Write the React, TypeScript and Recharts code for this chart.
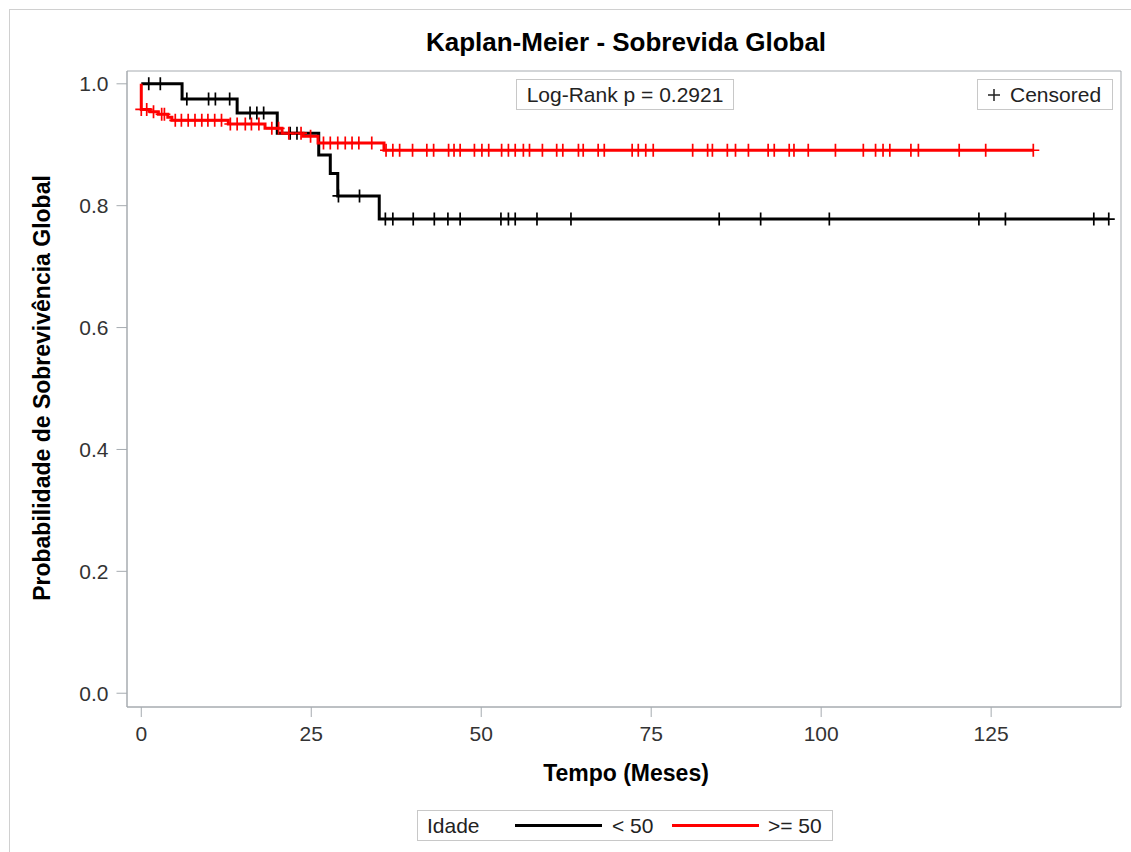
import { ComposedChart, Line, ReferenceArea, Scatter, XAxis, YAxis } from 'recharts'

const FONT = '"Liberation Sans", Arial, Helvetica, sans-serif'
const AXIS = '#a6abb0'
const BOX = '#c8c8c8'

const chartTitle = 'Kaplan-Meier - Sobrevida Global'
const xLabel = 'Tempo (Meses)'
const yLabel = 'Probabilidade de Sobrevivência Global'
const legendTitle = 'Idade'
const pValueText = 'Log-Rank p = 0.2921'
const censorLabel = 'Censored'

const groupNames = ['< 50', '>= 50']
const groupColors = ['#000000', '#ff0000']

const xTicks = [0, 25, 50, 75, 100, 125]
const yTicks = [0, 0.2, 0.4, 0.6, 0.8, 1.0]
const xDomain: [number, number] = [-2.1, 144.1]
const yDomain: [number, number] = [-0.0226, 1.021]

// Idade < 50
const youngTimes = [0, 6.0, 14.1, 20.0, 26.1, 27.8, 28.9, 35.0, 142.3]
const youngSurv = [1.0, 0.975, 0.952, 0.919, 0.883, 0.853, 0.816, 0.778, 0.778]
const youngCensored = [
  1.1, 2.8, 6.7, 9.9, 10.9, 13.0, 16.0, 17.0, 18.0, 21.9, 22.9, 29.0, 32.1,
  35.9, 37.0, 40.0, 43.1, 45.1, 46.9, 52.9, 54.0, 55.0, 58.2, 63.2, 85.0,
  91.1, 101.2, 123.2, 127.1, 140.1, 142.3,
]

// Idade >= 50
const olderTimes = [0, 0, 1.3, 2.5, 3.9, 4.5, 12.8, 18.2, 20.7, 23.8, 26.0, 35.7, 131.2]
const olderSurv = [1.0, 0.958, 0.954, 0.95, 0.945, 0.94, 0.934, 0.927, 0.919, 0.914, 0.903, 0.891, 0.891]
const olderCensored = [
  0.0, 0.8, 1.8, 3.0, 3.4, 5.0, 5.9, 6.9, 7.9, 8.9, 9.8, 10.8, 11.8, 13.1,
  14.1, 15.3, 16.2, 17.3, 19.2, 20.2, 21.7, 23.5, 24.9, 26.8, 27.8, 28.9,
  30.0, 31.0, 32.0, 33.9, 36.0, 37.0, 38.0, 39.9, 42.0, 43.0, 45.2, 46.0,
  46.9, 49.0, 50.1, 51.1, 53.0, 54.0, 55.0, 56.2, 57.1, 59.0, 61.1, 62.0,
  64.3, 65.0, 67.2, 68.1, 72.2, 73.1, 74.2, 75.3, 81.1, 83.3, 84.0, 86.2,
  87.4, 89.3, 92.2, 93.1, 95.3, 96.0, 98.1, 102.1, 106.2, 108.0, 109.1,
  110.1, 113.2, 114.3, 120.3, 124.2, 131.2,
]

const survivalAt = (times: number[], surv: number[], t: number) => {
  let v = surv[0]
  times.forEach((time, i) => {
    if (time <= t) v = surv[i]
  })
  return v
}

const stepData = (times: number[], surv: number[]) =>
  times.map((t, i) => ({ t, s: surv[i] }))

const censorData = (censored: number[], times: number[], surv: number[]) =>
  censored.map((t) => ({ t, s: survivalAt(times, surv, t) }))

const youngLine = stepData(youngTimes, youngSurv)
const olderLine = stepData(olderTimes, olderSurv)
const youngMarks = censorData(youngCensored, youngTimes, youngSurv)
const olderMarks = censorData(olderCensored, olderTimes, olderSurv)

const plusShape = (color: string) => (props: any) => {
  const { cx, cy } = props
  if (cx == null || cy == null) return <g />
  return (
    <path
      d={`M${cx - 6},${cy}H${cx + 6}M${cx},${cy - 6.5}V${cy + 6.5}`}
      stroke={color}
      strokeWidth={1.7}
      fill="none"
    />
  )
}

export default function App() {
  return (
    <div
      style={{
        position: 'absolute',
        left: 0,
        top: 0,
        width: 1131,
        height: 852,
        background: '#fff',
        fontFamily: FONT,
        overflow: 'hidden',
      }}
    >
      <div
        style={{
          position: 'absolute',
          left: 9,
          top: 9,
          right: -2,
          bottom: -2,
          borderLeft: '1px solid #d0d0d0',
          borderTop: '1px solid #d0d0d0',
        }}
      />
      <div style={{ position: 'absolute', left: 0, top: 0 }}>
        <ComposedChart
          width={1131}
          height={852}
          margin={{ top: 71, right: 10, bottom: 85, left: 0 }}
        >
          <XAxis
            dataKey="t"
            type="number"
            domain={xDomain}
            allowDataOverflow
            ticks={xTicks}
            height={60}
            tickSize={10}
            tickMargin={9}
            stroke={AXIS}
            tick={{ fill: '#333', fontSize: 21 }}
          />
          <YAxis
            dataKey="s"
            type="number"
            domain={yDomain}
            allowDataOverflow
            ticks={yTicks}
            width={127}
            tickSize={10.5}
            tickMargin={8}
            tickFormatter={(v) => Number(v).toFixed(1)}
            stroke={AXIS}
            tick={{ fill: '#333', fontSize: 21 }}
          />
          <ReferenceArea
            x1={xDomain[0]}
            x2={xDomain[1]}
            y1={yDomain[0]}
            y2={yDomain[1]}
            fill="none"
            stroke={AXIS}
            strokeWidth={1}
          />
          <Line
            data={youngLine}
            dataKey="s"
            type="stepAfter"
            stroke={groupColors[0]}
            strokeWidth={3}
            dot={false}
            activeDot={false}
            isAnimationActive={false}
          />
          <Line
            data={olderLine}
            dataKey="s"
            type="stepAfter"
            stroke={groupColors[1]}
            strokeWidth={3}
            dot={false}
            activeDot={false}
            isAnimationActive={false}
          />
          <Scatter
            data={youngMarks}
            dataKey="s"
            shape={plusShape(groupColors[0])}
            isAnimationActive={false}
          />
          <Scatter
            data={olderMarks}
            dataKey="s"
            shape={plusShape(groupColors[1])}
            isAnimationActive={false}
          />
        </ComposedChart>
      </div>

      <div
        style={{
          position: 'absolute',
          left: 626,
          top: 29,
          transform: 'translateX(-50%)',
          fontSize: 26,
          fontWeight: 'bold',
          lineHeight: '26px',
          whiteSpace: 'nowrap',
          color: '#000',
        }}
      >
        {chartTitle}
      </div>

      <div
        style={{
          position: 'absolute',
          left: 42,
          top: 388,
          transform: 'translate(-50%, -50%) rotate(-90deg)',
          fontSize: 23,
          fontWeight: 'bold',
          lineHeight: '23px',
          whiteSpace: 'nowrap',
          color: '#000',
        }}
      >
        {yLabel}
      </div>

      <div
        style={{
          position: 'absolute',
          left: 626,
          top: 773,
          transform: 'translate(-50%, -50%)',
          fontSize: 23,
          fontWeight: 'bold',
          lineHeight: '23px',
          whiteSpace: 'nowrap',
          color: '#000',
        }}
      >
        {xLabel}
      </div>

      <div
        style={{
          position: 'absolute',
          left: 516,
          top: 79,
          width: 218,
          height: 31,
          boxSizing: 'border-box',
          border: `1px solid ${BOX}`,
          textAlign: 'center',
          fontSize: 21,
          lineHeight: '29px',
          color: '#222',
          whiteSpace: 'nowrap',
        }}
      >
        {pValueText}
      </div>

      <div
        style={{
          position: 'absolute',
          left: 977,
          top: 79,
          width: 136,
          height: 31,
          boxSizing: 'border-box',
          border: `1px solid ${BOX}`,
          fontSize: 21,
          lineHeight: '29px',
          color: '#222',
        }}
      >
        <svg width={14} height={14} style={{ position: 'absolute', left: 9, top: 8 }}>
          <path d="M1,7H13M7,1V13" stroke="#222" strokeWidth={1.5} />
        </svg>
        <span style={{ position: 'absolute', left: 32, top: 0 }}>{censorLabel}</span>
      </div>

      <div
        style={{
          position: 'absolute',
          left: 417,
          top: 810,
          width: 416,
          height: 31,
          boxSizing: 'border-box',
          border: `1px solid ${BOX}`,
          fontSize: 21,
          lineHeight: '29px',
          color: '#222',
          whiteSpace: 'nowrap',
        }}
      >
        <span style={{ position: 'absolute', left: 9, top: 0 }}>{legendTitle}</span>
        {groupNames.map((name, i) => (
          <span key={name}>
            <span
              style={{
                position: 'absolute',
                left: 97 + i * 157,
                top: 13,
                width: 87,
                height: 3,
                background: groupColors[i],
              }}
            />
            <span style={{ position: 'absolute', left: 194 + i * 156, top: 0 }}>{name}</span>
          </span>
        ))}
      </div>
    </div>
  )
}
